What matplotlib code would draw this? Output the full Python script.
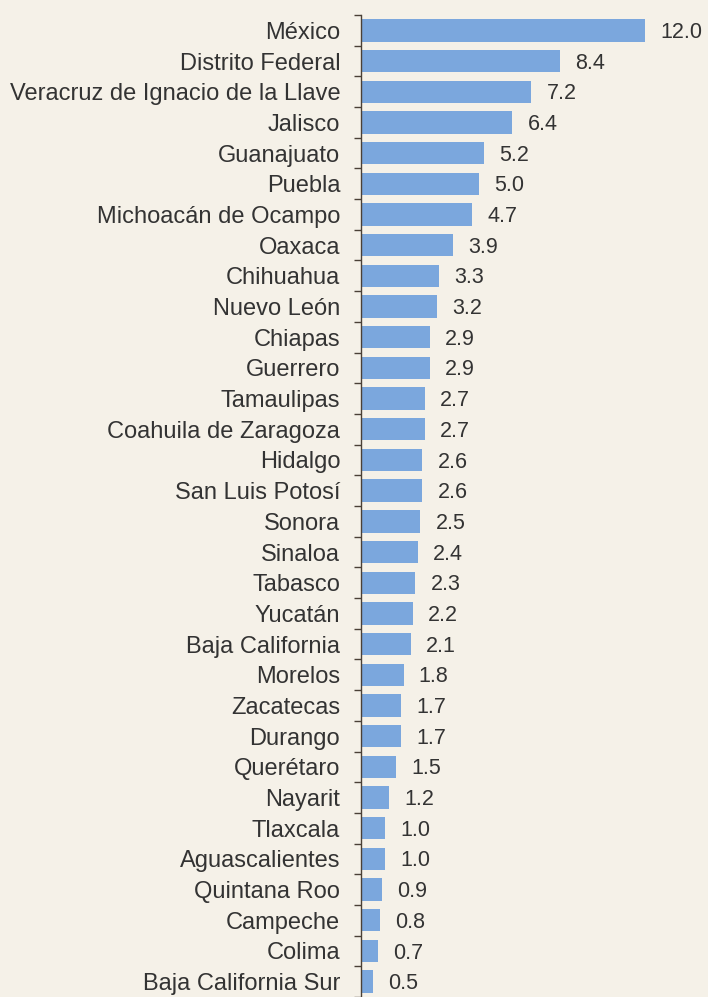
import matplotlib.pyplot as plt
import numpy as np

plt.rcParams['font.family'] = ['Liberation Sans', 'DejaVu Sans']

states = [
    "México", "Distrito Federal", "Veracruz de Ignacio de la Llave", "Jalisco",
    "Guanajuato", "Puebla", "Michoacán de Ocampo", "Oaxaca", "Chihuahua",
    "Nuevo León", "Chiapas", "Guerrero", "Tamaulipas", "Coahuila de Zaragoza",
    "Hidalgo", "San Luis Potosí", "Sonora", "Sinaloa", "Tabasco", "Yucatán",
    "Baja California", "Morelos", "Zacatecas", "Durango", "Querétaro",
    "Nayarit", "Tlaxcala", "Aguascalientes", "Quintana Roo", "Campeche",
    "Colima", "Baja California Sur",
]
values = [
    12.0, 8.4, 7.2, 6.4, 5.2, 5.0, 4.7, 3.9, 3.3, 3.2, 2.9, 2.9, 2.7, 2.7,
    2.6, 2.6, 2.5, 2.4, 2.3, 2.2, 2.1, 1.8, 1.7, 1.7, 1.5, 1.2, 1.0, 1.0,
    0.9, 0.8, 0.7, 0.5,
]

bg = '#f5f1e8'
bar_color = '#7ba7dd'
text_color = '#333333'
axis_color = '#4a4036'

fig = plt.figure(figsize=(7.08, 9.97), dpi=100, facecolor=bg)
ax = fig.add_axes([361 / 708, 0, 347 / 708, 982 / 997])
ax.set_facecolor(bg)

y = np.arange(len(states))
ax.barh(y, values, height=0.73, color=bar_color)

for yi, v in zip(y, values):
    ax.annotate(f"{v:.1f}", (v, yi), xytext=(11, -1.5),
                textcoords='offset points', va='center', ha='left',
                fontsize=15.5, color=text_color)

ax.set_xlim(0, 347 / 23.65)
ax.set_ylim(31.29, -0.5)

# labels as minor ticks at bar centres, tick marks at category boundaries
ax.set_yticks(y, minor=True)
ax.set_yticklabels(states, minor=True)
ax.tick_params(axis='y', which='minor', length=0, pad=15,
               labelsize=17, labelcolor=text_color)
ax.set_yticks(np.arange(-0.5, len(states), 1.0))
ax.set_yticklabels([])
ax.tick_params(axis='y', which='major', length=5, width=1, color=axis_color,
               direction='out')

ax.set_xticks([])
for side in ['top', 'right', 'bottom']:
    ax.spines[side].set_visible(False)
ax.spines['left'].set_color(axis_color)
ax.spines['left'].set_linewidth(1)

fig.savefig('out.png', dpi=100, facecolor=bg)
